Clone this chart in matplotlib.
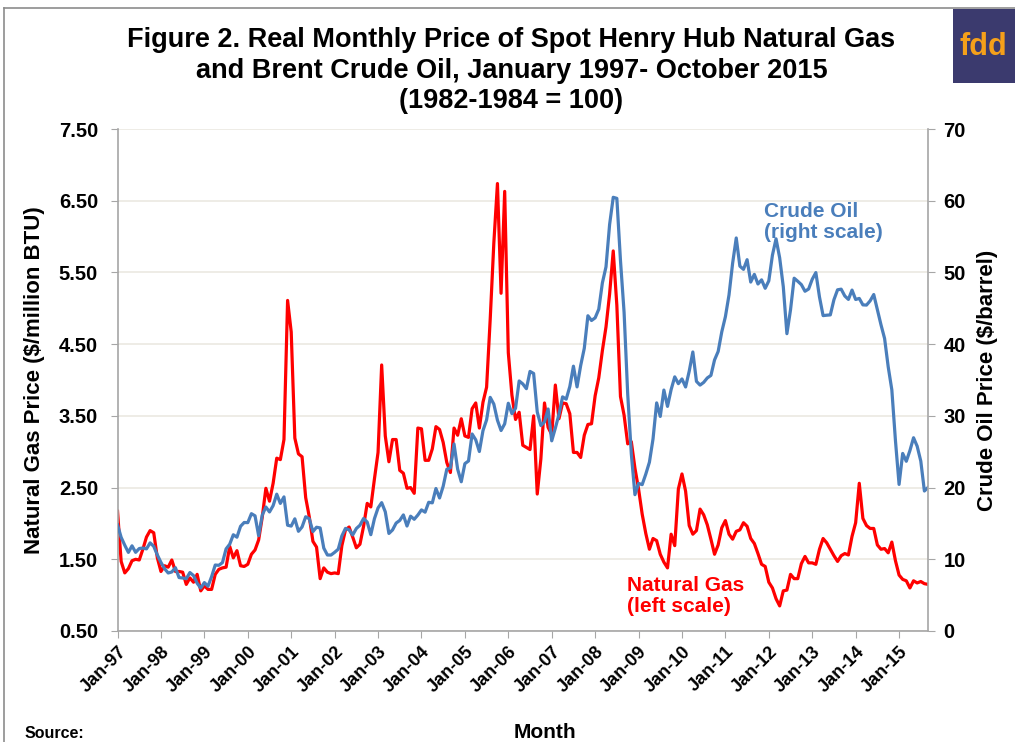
import numpy as np
import matplotlib
matplotlib.use("Agg")
import matplotlib.pyplot as plt
from matplotlib.patches import Rectangle
from matplotlib.lines import Line2D

plt.rcParams['font.family'] = ['Liberation Sans', 'DejaVu Sans']

# === Data (real prices, 1982-84 = 100), monthly Jan-97 .. Sep-15 ===
gas_price = [
    # 1997
    2.17, 1.47, 1.31, 1.37, 1.48, 1.50, 1.49, 1.64, 1.81, 1.90, 1.87, 1.52,
    # 1998
    1.33, 1.41, 1.39, 1.49, 1.33, 1.33, 1.32, 1.15, 1.24, 1.18, 1.29, 1.06,
    # 1999
    1.13, 1.08, 1.08, 1.29, 1.36, 1.38, 1.39, 1.68, 1.52, 1.62, 1.41, 1.40,
    # 2000
    1.43, 1.57, 1.63, 1.77, 2.09, 2.49, 2.31, 2.56, 2.91, 2.89, 3.17, 5.11,
    # 2001
    4.67, 3.19, 2.97, 2.93, 2.36, 2.09, 1.75, 1.67, 1.23, 1.38, 1.32, 1.30,
    # 2002
    1.31, 1.30, 1.69, 1.91, 1.95, 1.81, 1.66, 1.71, 1.96, 2.28, 2.23, 2.62,
    # 2003
    2.99, 4.21, 3.22, 2.86, 3.17, 3.17, 2.74, 2.70, 2.49, 2.50, 2.42, 3.33,
    # 2004
    3.32, 2.88, 2.88, 3.04, 3.35, 3.31, 3.13, 2.85, 2.71, 3.33, 3.23, 3.46,
    # 2005
    3.22, 3.20, 3.60, 3.68, 3.33, 3.69, 3.90, 4.85, 5.91, 6.74, 5.21, 6.63,
    # 2006
    4.38, 3.79, 3.45, 3.55, 3.09, 3.06, 3.03, 3.50, 2.41, 2.90, 3.68, 3.34,
    # 2007
    3.24, 3.93, 3.46, 3.68, 3.67, 3.53, 2.99, 2.99, 2.92, 3.23, 3.38, 3.39,
    # 2008
    3.78, 4.03, 4.41, 4.74, 5.20, 5.80, 5.04, 3.77, 3.51, 3.11, 3.14, 2.77,
    # 2009
    2.48, 2.13, 1.86, 1.64, 1.79, 1.76, 1.57, 1.46, 1.38, 1.85, 1.69, 2.48,
    # 2010
    2.69, 2.45, 1.97, 1.85, 1.90, 2.20, 2.12, 1.98, 1.78, 1.57, 1.70, 1.94,
    # 2011
    2.04, 1.85, 1.78, 1.89, 1.91, 2.01, 1.96, 1.79, 1.72, 1.58, 1.43, 1.40,
    # 2012
    1.18, 1.10, 0.95, 0.85, 1.06, 1.07, 1.29, 1.23, 1.23, 1.44, 1.54, 1.45,
    # 2013
    1.45, 1.43, 1.64, 1.79, 1.73, 1.64, 1.55, 1.47, 1.55, 1.58, 1.56, 1.82,
    # 2014
    2.01, 2.56, 2.07, 1.97, 1.93, 1.93, 1.70, 1.64, 1.65, 1.59, 1.74, 1.48,
    # 2015
    1.28, 1.22, 1.20, 1.10, 1.20, 1.17, 1.19, 1.16, 1.15,
]

oil_price = [
    # 1997
    14.80, 13.06, 11.96, 10.96, 11.88, 10.97, 11.50, 11.57, 11.45, 12.29, 11.81, 10.61,
    # 1998
    9.56, 8.69, 8.09, 8.23, 8.83, 7.45, 7.39, 7.29, 8.15, 7.73, 6.66, 5.99,
    # 1999
    6.75, 6.24, 7.58, 9.20, 9.16, 9.54, 11.45, 12.10, 13.42, 13.08, 14.60, 15.13,
    # 2000
    15.11, 16.36, 16.06, 13.29, 16.17, 17.29, 16.60, 17.48, 19.08, 17.79, 18.70, 14.75,
    # 2001
    14.63, 15.64, 13.90, 14.51, 15.93, 15.65, 13.86, 14.47, 14.37, 11.56, 10.60, 10.59,
    # 2002
    10.97, 11.41, 13.26, 14.31, 14.10, 13.39, 14.29, 14.75, 15.69, 15.19, 13.43, 15.66,
    # 2003
    17.16, 17.90, 16.62, 13.60, 14.09, 15.05, 15.42, 16.19, 14.64, 16.01, 15.58, 16.17,
    # 2004
    16.89, 16.57, 17.95, 17.87, 19.87, 18.55, 20.18, 22.55, 22.75, 26.08, 22.57, 20.81,
    # 2005
    23.34, 23.71, 27.47, 26.66, 25.03, 27.94, 29.44, 32.58, 31.64, 29.39, 27.96, 28.89,
    # 2006
    31.76, 30.30, 31.06, 34.87, 34.46, 33.79, 36.20, 35.91, 30.54, 28.65, 29.16, 30.96,
    # 2007
    26.52, 28.29, 30.21, 32.65, 32.33, 34.09, 36.93, 34.04, 37.01, 39.42, 43.96, 43.30,
    # 2008
    43.67, 44.87, 48.54, 50.78, 56.69, 60.48, 60.33, 51.68, 44.44, 33.05, 24.69, 19.01,
    # 2009
    20.58, 20.41, 21.88, 23.54, 26.79, 31.81, 29.92, 33.60, 31.32, 33.66, 35.44, 34.49,
    # 2010
    35.15, 34.03, 36.23, 38.91, 34.81, 34.29, 34.67, 35.29, 35.64, 37.80, 38.98, 41.72,
    # 2011
    43.83, 46.87, 51.29, 54.81, 50.88, 50.43, 51.78, 48.66, 49.73, 48.39, 48.97, 47.79,
    # 2012
    48.83, 52.41, 54.69, 52.04, 48.02, 41.46, 44.79, 49.20, 48.77, 48.30, 47.38, 47.69,
    # 2013
    49.05, 49.98, 46.59, 43.98, 44.04, 44.08, 46.20, 47.58, 47.67, 46.72, 46.24, 47.54,
    # 2014
    46.23, 46.38, 45.48, 45.45, 46.04, 46.92, 44.80, 42.71, 40.79, 36.83, 33.63, 26.55,
    # 2015
    20.44, 24.76, 23.67, 25.16, 26.95, 25.77, 23.70, 19.52, 20.02,
]

year_labels = ['Jan-97', 'Jan-98', 'Jan-99', 'Jan-00', 'Jan-01', 'Jan-02', 'Jan-03',
               'Jan-04', 'Jan-05', 'Jan-06', 'Jan-07', 'Jan-08', 'Jan-09', 'Jan-10',
               'Jan-11', 'Jan-12', 'Jan-13', 'Jan-14', 'Jan-15']
gas_ticks = [0.5, 1.5, 2.5, 3.5, 4.5, 5.5, 6.5, 7.5]
oil_ticks = [0, 10, 20, 30, 40, 50, 60, 70]

# === Style ===
GAS_RED = '#ff0000'
OIL_BLUE = '#4a7ebb'
AXIS_GRAY = '#a6a6a6'
GRID = '#ebe9e1'

fig = plt.figure(figsize=(10.15, 7.42), dpi=100)
fig.patch.set_facecolor('white')

ax = fig.add_axes([0.1158, 0.1496, 0.7985, 0.6765])
ax2 = ax.twinx()

months = np.arange(len(gas_price))
ax.plot(months, gas_price, color=GAS_RED, lw=2.3, solid_joinstyle='round')
ax2.plot(months, oil_price, color=OIL_BLUE, lw=2.3, solid_joinstyle='round')

ax.set_xlim(0, len(gas_price) - 1)
ax.set_ylim(0.5, 7.5)
ax2.set_ylim(0, 70)

ax.set_yticks(gas_ticks)
ax.set_yticklabels([f"{v:.2f}" for v in gas_ticks])
ax2.set_yticks(oil_ticks)
ax2.set_yticklabels([str(v) for v in oil_ticks])
ax.set_xticks(np.arange(0, 12 * len(year_labels), 12))
ax.set_xticklabels(year_labels, rotation=45, ha='right', rotation_mode='anchor')

ax.yaxis.grid(True, color=GRID, lw=1.2)
ax.set_axisbelow(True)

for a in (ax, ax2):
    for side in ('top', 'left', 'right', 'bottom'):
        a.spines[side].set_visible(False)
ax.spines['left'].set_visible(True)
ax.spines['bottom'].set_visible(True)
ax2.spines['right'].set_visible(True)
for sp in (ax.spines['left'], ax.spines['bottom'], ax2.spines['right']):
    sp.set_color(AXIS_GRAY)
    sp.set_linewidth(1.2)

ax.tick_params(axis='y', length=5, color=AXIS_GRAY, labelsize=14.5, pad=9)
ax.tick_params(axis='x', length=5, color=AXIS_GRAY, labelsize=13, pad=4)
ax2.tick_params(axis='y', length=5, color=AXIS_GRAY, labelsize=14.5, pad=6)
for lab in ax.get_yticklabels() + ax.get_xticklabels() + ax2.get_yticklabels():
    lab.set_fontweight('bold')

ax.set_ylabel("Natural Gas Price ($/million BTU)", fontsize=16, fontweight='bold', labelpad=10)
ax2.set_ylabel("Crude Oil Price ($/barrel)", fontsize=16, fontweight='bold',
               rotation=90, labelpad=8)

# Series labels
fig.text(764 / 1015, 1 - 202 / 742, "Crude Oil\n(right scale)", color=OIL_BLUE,
         fontsize=15, fontweight='bold', ha='left', va='top', linespacing=1.1)
fig.text(627 / 1015, 1 - 576 / 742, "Natural Gas\n(left scale)", color=GAS_RED,
         fontsize=15, fontweight='bold', ha='left', va='top', linespacing=1.1)

# Title
title_lines = ["Figure 2. Real Monthly Price of Spot Henry Hub Natural Gas",
               "and Brent Crude Oil, January 1997- October 2015",
               "(1982-1984 = 100)"]
for i, line in enumerate(title_lines):
    fig.text(0.504, 1 - (40 + 30.5 * i) / 742, line, ha='center', va='center',
             fontsize=19.5, fontweight='bold')

fig.text(545 / 1015, 1 - 732 / 742, "Month", ha='center', va='center',
         fontsize=15, fontweight='bold')
fig.text(25 / 1015, 1 - 733 / 742, "Source:", ha='left', va='center',
         fontsize=11.5, fontweight='bold')

# Frame lines and logo
fig.add_artist(Line2D([4 / 1015, 4 / 1015], [0, 1 - 8 / 742], transform=fig.transFigure,
                      color='#8c8c8c', lw=1.2))
fig.add_artist(Line2D([4 / 1015, 1], [1 - 8 / 742, 1 - 8 / 742], transform=fig.transFigure,
                      color='#8c8c8c', lw=1.2))
fig.add_artist(Rectangle((953 / 1015, 1 - 83 / 742), 70 / 1015, 74 / 742,
                         transform=fig.transFigure, facecolor='#3b3a6e', edgecolor='none'))
fig.text(959 / 1015, 1 - 47 / 742, "fdd", color='#f5a01a', fontsize=22,
         fontweight='bold', ha='left', va='center')

fig.savefig("out.png", dpi=100, facecolor=fig.get_facecolor())
